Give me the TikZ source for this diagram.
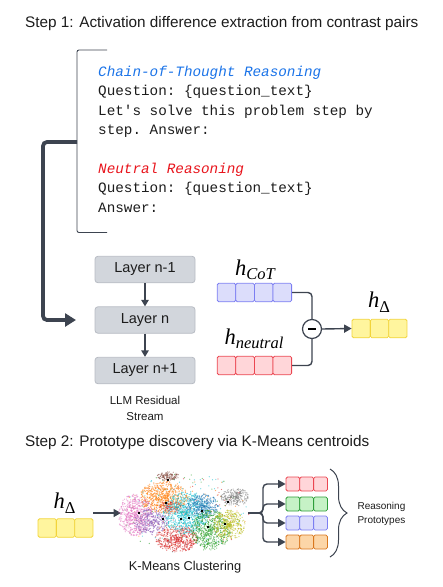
\documentclass[tikz,border=0pt]{standalone}
\usepackage{fontspec}
\setmainfont{Liberation Sans}
\setmonofont{Liberation Mono}
\newfontfamily\serifit{Liberation Serif}
\usetikzlibrary{arrows.meta,positioning,decorations.pathreplacing}

\definecolor{slate}{HTML}{3D4450}
\definecolor{ink}{HTML}{1C1C1C}
\definecolor{layerfill}{HTML}{D2D6DC}
\definecolor{layerline}{HTML}{B8BCC4}
\definecolor{cotblue}{HTML}{1A73E8}
\definecolor{neured}{HTML}{E8141C}
\definecolor{bluefill}{HTML}{DCDDFB}
\definecolor{blueline}{HTML}{7C7EF2}
\definecolor{redfill}{HTML}{FFD6D9}
\definecolor{redline}{HTML}{EB4651}
\definecolor{yelfill}{HTML}{FFF59E}
\definecolor{yelline}{HTML}{F2D43A}
\definecolor{grnfill}{HTML}{C6F2C6}
\definecolor{grnline}{HTML}{2E9E3A}
\definecolor{orgfill}{HTML}{FCD6A8}
\definecolor{orgline}{HTML}{D9771E}
% cluster colours
\definecolor{tblue}{HTML}{1F77B4}
\definecolor{torange}{HTML}{FF7F0E}
\definecolor{tgreen}{HTML}{2CA02C}
\definecolor{tred}{HTML}{D62728}
\definecolor{tpurple}{HTML}{9467BD}
\definecolor{tbrown}{HTML}{8C564B}
\definecolor{tpink}{HTML}{E377C2}
\definecolor{tgray}{HTML}{7F7F7F}
\definecolor{tolive}{HTML}{BCBD22}
\definecolor{tcyan}{HTML}{17BECF}

% a row of vector cells: [opts]{name}{first x}{y}{count}{width}{colour}
\newcommand{\cellrow}[7][]{%
  \foreach \k in {1,...,#5}
    \node[cell, minimum width=#6pt, fill=#7fill, draw=#7line, #1] (#2\k) at ({#3+(\k-1)*#6},#4) {};
}
% h with a subscript, Times-like
\newcommand{\hsub}[1]{h\raisebox{-4.5pt}{\fontsize{16.5}{17}\selectfont #1}}

\begin{document}
\begin{tikzpicture}[x=1pt,y=-1pt,
    cell/.style={rectangle, rounded corners=1.5pt, line width=0.8pt, minimum height=18.5pt, inner sep=0pt},
    layer/.style={rectangle, rounded corners=3pt, fill=layerfill, draw=layerline, line width=0.8pt,
      minimum width=100pt, minimum height=26.5pt, font=\fontsize{14.5}{16}\selectfont, text=ink},
    flow/.style={slate, line width=1.3pt, -{Triangle[length=6.5pt,width=7.5pt]}},
    link/.style={slate, line width=1.4pt, -{Triangle[length=7.5pt,width=8pt]}},
    title/.style={anchor=west, inner sep=0pt, font=\fontsize{15.3}{18}\selectfont, text=ink},
    hlabel/.style={font=\fontsize{22.5}{24}\selectfont\serifit\itshape, text=black},
    centroid/.style={rectangle, fill=black, minimum size=2.6pt, inner sep=0pt}]
  \useasboundingbox (0,0) rectangle (443,587);

  % step 1
  \node[title] (step1) at (25,24) {Step 1: Activation difference extraction from contrast pairs};

  \draw[slate, line width=0.9pt, rounded corners=2pt] (107,50) -- (77,50) -- (77,232.5) -- (107,232.5);
  \node[anchor=north west, align=left, inner sep=0pt, text=ink,
        font=\fontsize{14.3}{19.4}\selectfont\ttfamily] (prompt) at (98,66) {%
    {\color{cotblue}\itshape Chain-of-Thought Reasoning}\\
    Question: \{question\_text\}\\
    Let's solve this problem step by\\
    step. Answer:\\[19.4pt]
    {\color{neured}\itshape Neutral Reasoning}\\
    Question: \{question\_text\}\\
    Answer:};

  \coordinate (bracketmid) at (77,142);
  \coordinate (into) at (76,320);
  \draw[slate, line width=3.8pt, rounded corners=4pt, -{Triangle[length=11pt,width=13pt]}]
    (bracketmid) -| (43,320) -- (into);

  \node[layer] (lprev) at (145,269.5) {Layer n-1};
  \node[layer] (lcur) at (145,320) {Layer n};
  \node[layer] (lnext) at (145,370.5) {Layer n+1};
  \draw[flow] (lprev) -- (lcur);
  \draw[flow] (lcur) -- (lnext);
  \node[align=center, text=ink, font=\fontsize{11.5}{16}\selectfont] (stream) at (145,408) {LLM Residual\\Stream};

  \node[hlabel] (hcot) at (255,270) {\hsub{CoT}};
  \cellrow{cot}{226.5}{292.5}{4}{18.6}{blue}
  \node[hlabel] (hneu) at (254,339) {\hsub{neutral}};
  \cellrow{neu}{226.5}{365.5}{4}{18.6}{red}

  \node[circle, draw=slate, line width=1.2pt, fill=white, minimum size=19pt, inner sep=0pt] (minus) at (312,329) {\rule{8pt}{2.2pt}};
  \draw[slate, line width=1.4pt, rounded corners=4pt] (cot4.east) -| (minus.north);
  \draw[slate, line width=1.4pt, rounded corners=4pt] (neu4.east) -| (minus.south);

  \node[hlabel] (hdelta) at (379,302) {\hsub{\upshape Δ}};
  \cellrow{dl}{361.2}{328.5}{3}{18.3}{yel}
  \draw[link] (minus.east) -- (dl1.west);

  % step 2
  \node[title] (step2) at (25,443) {Step 2: Prototype discovery via K-Means centroids};

  \node[hlabel] (hdin) at (64.5,503) {\hsub{\upshape Δ}};
  \cellrow{din}{47.2}{528}{3}{18.3}{yel}
  \coordinate (hdout) at (93,513);
  \coordinate (cloudin) at (121,513);
  \draw[link] (hdout) -- (cloudin);

  % scatter of the clusters
  \pgfmathsetseed{11}
  \foreach \cx/\cy/\sx/\sy/\col/\num in {
      185/513/64/40/tcyan/120, 185/513/64/40/tred/100, 185/513/64/40/tgreen/80, 185/513/64/40/torange/70,
      135/515/17/21/tpink/600, 151/522/17/13/tpurple/360, 164/497/24/16/torange/620,
      168/476/11/4.5/tbrown/130, 170/507/12/7/tred/110, 177/539/22/13/tred/480,
      186/513/23/21/tcyan/700, 203/506/16/12/tblue/340, 211/530/20/20/tgreen/600,
      229/525/16/15/tolive/400, 235/497/14/9/tgray/240}
    \foreach \i in {1,...,\num} {
      \pgfmathsetmacro\ang{360*rnd}
      \pgfmathsetmacro\rad{rnd^0.7}
      \fill[\col, opacity=0.6] ({\cx+\sx*\rad*cos(\ang)},{\cy+\sy*\rad*sin(\ang)}) circle (0.65);
    }
  \foreach \mx/\my in {168/480, 166/503, 139/513, 163/519, 181/519, 189/518, 202/511, 228/502, 208/527, 225/524}
    \node[centroid] at (\mx,\my) {};
  \node[text=ink, font=\fontsize{12.8}{15}\selectfont] (kmeans) at (185,567) {K-Means Clustering};

  \cellrow[minimum height=14pt]{pa}{292.9}{484}{3}{13.8}{red}
  \cellrow[minimum height=14pt]{pb}{292.9}{504}{3}{13.8}{grn}
  \cellrow[minimum height=14pt]{pc}{292.9}{523}{3}{13.8}{blue}
  \cellrow[minimum height=14pt]{pd}{292.9}{542}{3}{13.8}{org}
  \coordinate (cloudout) at (248,513);
  \coordinate (split) at (263,513);
  \foreach \p in {pa,pb,pc,pd}
    \draw[link, rounded corners=4pt] (cloudout) -- (split) |- (\p1.west);

  \draw[slate, line width=1pt, decorate, decoration={brace, amplitude=17pt}] (330,469) -- (330,557);
  \node[anchor=west, align=left, text=ink, font=\fontsize{10}{14.5}\selectfont] (protos) at (354,514) {Reasoning\\Prototypes};
\end{tikzpicture}
\end{document}
